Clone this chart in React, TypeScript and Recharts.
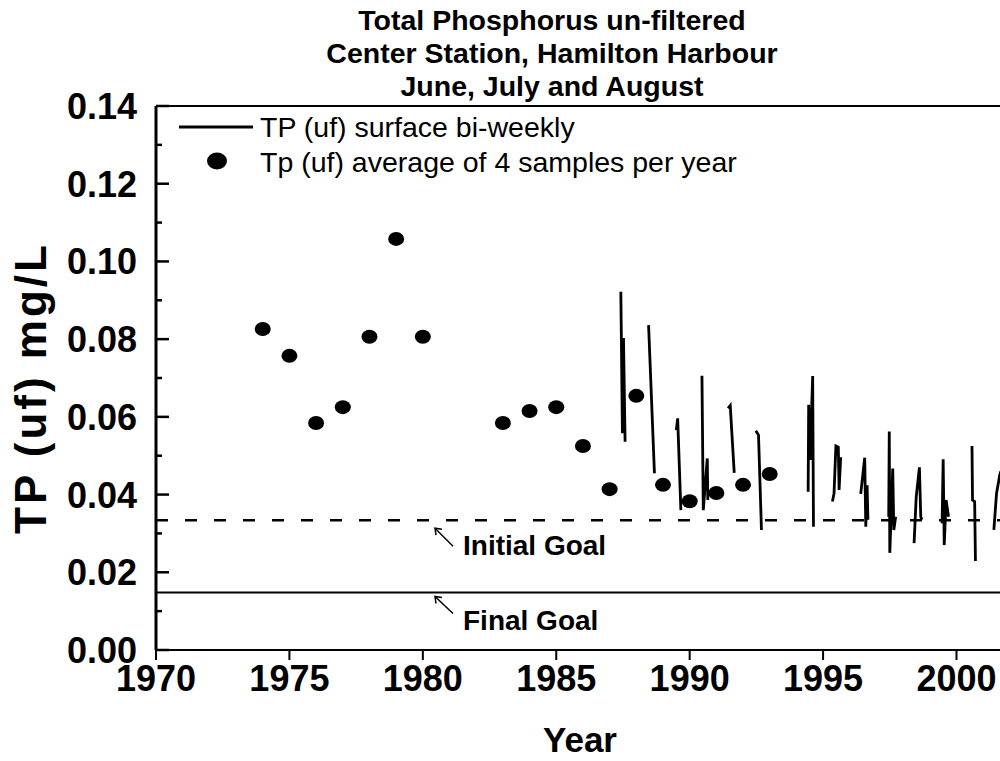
import React from 'react';
import { ComposedChart, XAxis, YAxis, Line, Scatter, ReferenceLine, Legend } from 'recharts';

const FONT = '"Liberation Sans", Arial, Helvetica, sans-serif';

const titleLines = ['Total Phosphorus un-filtered', 'Center Station, Hamilton Harbour', 'June, July and August'];
const xAxisTitle = 'Year';
const yAxisTitle = 'TP (uf) mg/L';
const legendLine = 'TP (uf) surface bi-weekly';
const legendDot = 'Tp (uf) average of 4 samples per year';

const xTicks = [1970, 1975, 1980, 1985, 1990, 1995, 2000];
const yTicks = [0, 0.01, 0.02, 0.03, 0.04, 0.05, 0.06, 0.07, 0.08, 0.09, 0.1, 0.11, 0.12, 0.13, 0.14];
const yLabelTicks = [0, 0.02, 0.04, 0.06, 0.08, 0.1, 0.12, 0.14];

const avgYears = [1974, 1975, 1976, 1977, 1978, 1979, 1980, 1983, 1984, 1985, 1986, 1987, 1988, 1989, 1990, 1991, 1992, 1993];
const avgTP = [0.0826, 0.0757, 0.0584, 0.0625, 0.0806, 0.1058, 0.0806, 0.0584, 0.0615, 0.0625, 0.0525, 0.0414, 0.0654, 0.0425, 0.0383, 0.0404, 0.0425, 0.0453];

// bi-weekly surface samples (fractional year); null marks a break between seasons
const biweeklyDates = [
  1987.42, 1987.48, 1987.52, 1987.58, 1988.0,
  1988.46, 1988.68, 1989.0,
  1989.5, 1989.55, 1989.67, 1990.0,
  1990.46, 1990.51, 1990.66, 1990.68, 1991.0,
  1991.44, 1991.52, 1991.67, 1992.0,
  1992.48, 1992.58, 1992.69, 1993.0,
  1994.44, 1994.46, 1994.52, 1994.55, 1994.61, 1994.64, 1995.0,
  1995.35, 1995.41, 1995.48, 1995.57, 1995.6, 1995.66, 1996.0,
  1996.41, 1996.56, 1996.6, 1996.65, 1996.68, 1997.0,
  1997.46, 1997.48, 1997.5, 1997.61, 1997.65, 1997.72, 1998.0,
  1998.41, 1998.49, 1998.61, 1998.66, 1998.7, 1999.0,
  1999.46, 1999.5, 1999.54, 1999.61, 1999.7, 2000.0,
  2000.58, 2000.6, 2000.68, 2000.71, 2001.0,
  2001.4, 2001.5, 2001.62, 2001.66,
];
const biweeklyTP = [
  0.0922, 0.0558, 0.0803, 0.0536, null,
  0.0836, 0.0455, null,
  0.0566, 0.0596, 0.036, null,
  0.0706, 0.036, 0.0493, 0.0386, null,
  0.0622, 0.0629, 0.0456, null,
  0.0564, 0.0553, 0.0309, null,
  0.0407, 0.0631, 0.0489, 0.0575, 0.0705, 0.0317, null,
  0.0382, 0.0403, 0.0525, 0.0522, 0.0412, 0.0496, null,
  0.0402, 0.0495, 0.0317, 0.0424, 0.0335, null,
  0.0343, 0.0562, 0.025, 0.0467, 0.0309, 0.0343, null,
  0.0275, 0.0394, 0.047, 0.0343, 0.0335, null,
  0.0326, 0.0491, 0.027, 0.0386, 0.0343, null,
  0.0525, 0.0386, 0.0382, 0.0229, null,
  0.0309, 0.0403, 0.045, 0.046,
];

const initialGoal = 0.0334;
const finalGoal = 0.0148;
const goalLabels = ['Initial Goal', 'Final Goal'];

const avgData = avgYears.map((x, i) => ({ x, tp: avgTP[i] }));
const biweeklyData = biweeklyDates.map((x, i) => ({ x, tp: biweeklyTP[i] }));

const YTick = (props: any) => {
  const { x, y, payload } = props;
  const v = Math.round(payload.value * 100) / 100;
  const major = yLabelTicks.some((t) => Math.abs(t - v) < 1e-9);
  return (
    <g>
      <line x1={x} x2={x + (major ? 13 : 6)} y1={y} y2={y} stroke="#000" strokeWidth={2.5} />
      {major && (
        <text x={x - 19} y={y} dy="0.36em" textAnchor="end" fontFamily={FONT} fontWeight="bold" fontSize={36} fill="#000">
          {v.toFixed(2)}
        </text>
      )}
    </g>
  );
};

const GoalLabel = (props: any) => {
  const { viewBox, text, headDy, tailDy, baseDy } = props;
  const x0 = viewBox.x;
  const y0 = viewBox.y;
  const hx = x0 + 279;
  const hy = y0 + headDy;
  const tx = x0 + 297;
  const ty = y0 + tailDy;
  return (
    <g>
      <line x1={hx} y1={hy} x2={tx} y2={ty} stroke="#000" strokeWidth={1.5} />
      <path d={`M${hx + 7},${hy + 1} L${hx},${hy} L${hx + 1},${hy + 7}`} fill="none" stroke="#000" strokeWidth={1.5} />
      <text x={x0 + 307} y={y0 + baseDy} fontFamily={FONT} fontWeight="bold" fontSize={28} fill="#000">
        {text}
      </text>
    </g>
  );
};

const LegendContent = () => (
  <svg width={1000} height={200} style={{ display: 'block' }}>
    <line x1={179} x2={253} y1={127} y2={127} stroke="#000" strokeWidth={3} />
    <text x={260} y={137} fontFamily={FONT} fontSize={28.5} fill="#000">{legendLine}</text>
    <ellipse cx={217} cy={161} rx={10} ry={8.5} fill="#000" />
    <text x={260} y={172} fontFamily={FONT} fontSize={28.5} fill="#000">{legendDot}</text>
  </svg>
);

const Dot = (props: any) => <ellipse cx={props.cx} cy={props.cy} rx={8} ry={7} fill="#000" />;

export default function App() {
  return (
    <div style={{ position: 'absolute', left: 0, top: 0, width: 1000, height: 761, overflow: 'hidden', background: '#fff' }}>
      {titleLines.map((t, i) => (
        <div
          key={t}
          style={{
            position: 'absolute',
            left: 252,
            width: 600,
            top: 4 + i * 33,
            textAlign: 'center',
            fontFamily: FONT,
            fontWeight: 'bold',
            fontSize: 28.5,
            lineHeight: '32px',
            whiteSpace: 'nowrap',
            color: '#000',
          }}
        >
          {t}
        </div>
      ))}
      <ComposedChart width={1000} height={761} margin={{ top: 106, right: 0, bottom: 0, left: 0 }}>
        <XAxis
          dataKey="x"
          type="number"
          domain={[1970, 2001.63]}
          allowDataOverflow
          ticks={xTicks}
          interval={0}
          height={111}
          tickSize={10}
          tickMargin={5}
          axisLine={{ stroke: '#000', strokeWidth: 2 }}
          tickLine={{ stroke: '#000', strokeWidth: 2 }}
          tick={{ fill: '#000', fontFamily: FONT, fontWeight: 'bold', fontSize: 36 }}
          label={() => (
            <text x={580} y={752} textAnchor="middle" fontFamily={FONT} fontWeight="bold" fontSize={35} fill="#000">
              {xAxisTitle}
            </text>
          )}
        />
        <YAxis
          type="number"
          domain={[0, 0.14]}
          allowDataOverflow
          ticks={yTicks}
          interval={0}
          width={156}
          tickSize={0}
          tickMargin={0}
          tickLine={false}
          axisLine={{ stroke: '#000', strokeWidth: 3 }}
          tick={<YTick />}
          label={() => (
            <text
              x={46}
              y={388}
              transform="rotate(-90 46 388)"
              textAnchor="middle"
              fontFamily={FONT}
              fontWeight="bold"
              fontSize={44}
              letterSpacing={3}
              fill="#000"
            >
              {yAxisTitle}
            </text>
          )}
        />
        <ReferenceLine y={0.14} stroke="#000" strokeWidth={2} />
        <ReferenceLine
          y={initialGoal}
          stroke="#000"
          strokeWidth={2.5}
          strokeDasharray="12 17"
          label={(p: any) => <GoalLabel {...p} text={goalLabels[0]} headDy={8} tailDy={26} baseDy={35} />}
        />
        <ReferenceLine
          y={finalGoal}
          stroke="#000"
          strokeWidth={2}
          label={(p: any) => <GoalLabel {...p} text={goalLabels[1]} headDy={4} tailDy={21} baseDy={38} />}
        />
        <Line
          data={biweeklyData}
          dataKey="tp"
          stroke="#000"
          strokeWidth={2.8}
          dot={false}
          activeDot={false}
          isAnimationActive={false}
          connectNulls={false}
        />
        <Scatter data={avgData} dataKey="tp" fill="#000" shape={<Dot />} isAnimationActive={false} />
        <Legend
          layout="vertical"
          align="center"
          verticalAlign="middle"
          content={<LegendContent />}
          wrapperStyle={{ left: 0, top: 0, width: 1000, height: 200, pointerEvents: 'none' }}
        />
      </ComposedChart>
    </div>
  );
}
